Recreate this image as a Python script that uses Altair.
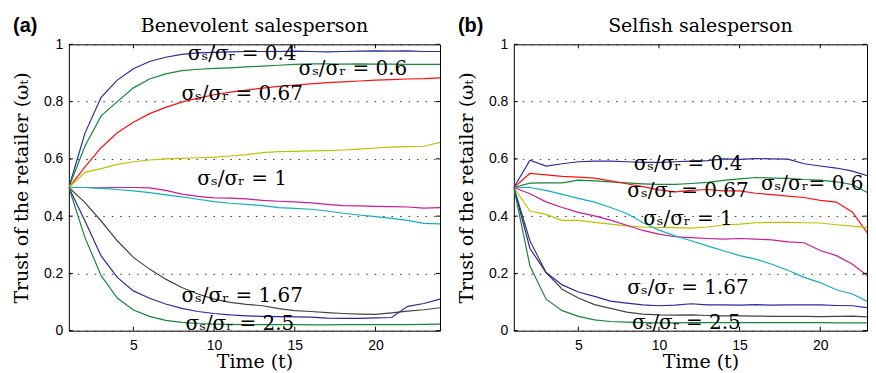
import altair as alt
import pandas as pd

t = list(range(1, 25))

# Benevolent salesperson (panel a)
ben_b1 = [0.5, 0.69, 0.815, 0.875, 0.915, 0.94, 0.955, 0.965, 0.97, 0.972, 0.974, 0.975, 0.975, 0.975, 0.976, 0.975, 0.974, 0.975, 0.976, 0.977, 0.976, 0.977, 0.975, 0.975]
ben_g1 = [0.5, 0.645, 0.75, 0.80, 0.848, 0.879, 0.897, 0.908, 0.913, 0.916, 0.918, 0.921, 0.924, 0.927, 0.93, 0.932, 0.932, 0.931, 0.932, 0.931, 0.931, 0.93, 0.93, 0.93]
ben_r = [0.5, 0.572, 0.639, 0.691, 0.728, 0.758, 0.78, 0.798, 0.812, 0.824, 0.833, 0.84, 0.847, 0.853, 0.858, 0.862, 0.866, 0.869, 0.872, 0.875, 0.877, 0.879, 0.88, 0.883]
ben_y = [0.5, 0.553, 0.566, 0.581, 0.59, 0.596, 0.6, 0.602, 0.604, 0.606, 0.61, 0.615, 0.622, 0.625, 0.626, 0.628, 0.629, 0.631, 0.634, 0.638, 0.641, 0.643, 0.644, 0.658]
ben_m = [0.5, 0.5, 0.499, 0.5, 0.5, 0.499, 0.49, 0.477, 0.469, 0.464, 0.463, 0.46, 0.455, 0.452, 0.45, 0.446, 0.441, 0.437, 0.436, 0.434, 0.433, 0.432, 0.428, 0.43]
ben_c = [0.5, 0.5, 0.497, 0.493, 0.488, 0.482, 0.474, 0.467, 0.459, 0.451, 0.445, 0.441, 0.437, 0.43, 0.427, 0.424, 0.418, 0.41, 0.404, 0.398, 0.392, 0.385, 0.375, 0.373]
ben_k = [0.5, 0.447, 0.383, 0.314, 0.256, 0.215, 0.18, 0.151, 0.128, 0.11, 0.099, 0.092, 0.087, 0.077, 0.07, 0.067, 0.063, 0.06, 0.058, 0.057, 0.062, 0.068, 0.073, 0.08]
ben_b2 = [0.5, 0.383, 0.261, 0.186, 0.139, 0.113, 0.093, 0.078, 0.067, 0.06, 0.055, 0.052, 0.05, 0.049, 0.048, 0.047, 0.044, 0.043, 0.043, 0.045, 0.046, 0.085, 0.095, 0.11]
ben_g2 = [0.5, 0.325, 0.192, 0.114, 0.072, 0.05, 0.036, 0.029, 0.025, 0.023, 0.022, 0.021, 0.021, 0.021, 0.021, 0.02, 0.02, 0.021, 0.021, 0.021, 0.021, 0.021, 0.022, 0.023]

# Selfish salesperson (panel b)
sel_b1 = [0.5, 0.595, 0.575, 0.583, 0.59, 0.592, 0.592, 0.59, 0.588, 0.588, 0.59, 0.592, 0.594, 0.6, 0.598, 0.601, 0.6, 0.599, 0.583, 0.575, 0.568, 0.557, 0.54, 0.515]
sel_g1 = [0.5, 0.515, 0.516, 0.516, 0.526, 0.523, 0.52, 0.516, 0.513, 0.511, 0.511, 0.514, 0.518, 0.525, 0.53, 0.535, 0.533, 0.532, 0.528, 0.526, 0.52, 0.51, 0.48, 0.455]
sel_r = [0.5, 0.549, 0.544, 0.539, 0.536, 0.533, 0.523, 0.513, 0.503, 0.492, 0.485, 0.49, 0.493, 0.488, 0.488, 0.48, 0.475, 0.47, 0.465, 0.455, 0.449, 0.414, 0.335, 0.26]
sel_y = [0.5, 0.418, 0.406, 0.385, 0.385, 0.378, 0.372, 0.366, 0.362, 0.36, 0.36, 0.358, 0.362, 0.369, 0.372, 0.377, 0.378, 0.378, 0.377, 0.376, 0.37, 0.365, 0.36, 0.352]
sel_m = [0.5, 0.478, 0.45, 0.43, 0.413, 0.401, 0.386, 0.368, 0.35, 0.337, 0.328, 0.325, 0.322, 0.32, 0.322, 0.32, 0.317, 0.31, 0.307, 0.28, 0.262, 0.232, 0.188, 0.15]
sel_c = [0.5, 0.5, 0.49, 0.476, 0.462, 0.449, 0.43, 0.409, 0.378, 0.351, 0.331, 0.314, 0.296, 0.279, 0.262, 0.25, 0.232, 0.211, 0.186, 0.168, 0.143, 0.128, 0.1, 0.085]
sel_k = [0.5, 0.314, 0.203, 0.145, 0.114, 0.091, 0.078, 0.065, 0.058, 0.055, 0.054, 0.055, 0.053, 0.052, 0.052, 0.051, 0.05, 0.05, 0.05, 0.049, 0.05, 0.051, 0.048, 0.047]
sel_b2 = [0.5, 0.287, 0.203, 0.16, 0.135, 0.12, 0.103, 0.096, 0.09, 0.087, 0.089, 0.094, 0.09, 0.09, 0.089, 0.091, 0.089, 0.09, 0.09, 0.09, 0.088, 0.087, 0.08, 0.075]
sel_g2 = [0.5, 0.226, 0.11, 0.07, 0.05, 0.038, 0.032, 0.03, 0.028, 0.027, 0.027, 0.028, 0.028, 0.028, 0.028, 0.028, 0.028, 0.028, 0.028, 0.028, 0.027, 0.027, 0.027, 0.027]

series_names = ["b1", "g1", "r", "y", "m", "c", "k", "b2", "g2"]
series_colors = ["#2a2aa0", "#15883a", "#ff1010", "#c0c000", "#cc1a99", "#10b0c0", "#444444", "#2a2aa0", "#15883a"]

# annotation labels
ben_lab_text = ["σₛ/σᵣ = 0.4", "σₛ/σᵣ = 0.6", "σₛ/σᵣ = 0.67", "σₛ/σᵣ = 1", "σₛ/σᵣ = 1.67", "σₛ/σᵣ = 2.5"]
ben_lab_t = [11.74, 18.6, 11.74, 11.74, 11.74, 11.6]
ben_lab_v = [0.965, 0.913, 0.826, 0.53, 0.122, 0.024]
sel_lab_text = ["σₛ/σᵣ = 0.4", "σₛ/σᵣ = 0.67", "σₛ/σᵣ= 0.6", "σₛ/σᵣ = 1", "σₛ/σᵣ = 1.67", "σₛ/σᵣ = 2.5"]
sel_lab_t = [11.8, 11.8, 19.5, 11.8, 11.8, 11.7]
sel_lab_v = [0.582, 0.488, 0.512, 0.39, 0.15, 0.028]

x_ticks = [5, 10, 15, 20]
y_ticks = [0, 0.2, 0.4, 0.6, 0.8, 1]
H = 287


def long_df(series_list):
    rows = []
    for name, vals in zip(series_names, series_list):
        for ti, v in zip(t, vals):
            rows.append({"t": ti, "v": v, "s": name})
    return pd.DataFrame(rows)


def panel(series_list, lab_text, lab_t, lab_v, title, tag, xmax, width, title_x):
    df = long_df(series_list)
    lab_df = pd.DataFrame({"t": lab_t, "v": lab_v, "lab": lab_text})
    xs = alt.Scale(domain=[1, xmax], nice=False, zero=False)
    ys = alt.Scale(domain=[0, 1], nice=False, zero=False)
    xax = alt.Axis(values=x_ticks, title="Time (t)", grid=False, ticks=False, domain=False,
                   labelFont="Liberation Sans", labelFontSize=14, labelColor="black", labelPadding=8,
                   titleFont="DejaVu Serif", titleFontSize=19, titleFontWeight="normal",
                   titleColor="black", titlePadding=0, titleX=title_x)
    yax = alt.Axis(values=y_ticks, title="Trust of the retailer (ωₜ)", format="~g", grid=True,
                   gridDash=[1.5, 7], gridColor="#333333", gridWidth=1, gridOpacity=1,
                   ticks=False, domain=False,
                   labelFont="Liberation Sans", labelFontSize=14, labelColor="black", labelPadding=6,
                   titleFont="DejaVu Serif", titleFontSize=19, titleFontWeight="normal",
                   titleColor="black", titlePadding=12)
    lines = alt.Chart(df).mark_line(strokeWidth=1.2, clip=True).encode(
        x=alt.X("t:Q", scale=xs, axis=xax),
        y=alt.Y("v:Q", scale=ys, axis=yax),
        color=alt.Color("s:N", scale=alt.Scale(domain=series_names, range=series_colors), legend=None),
        detail="s:N",
    )
    labels = alt.Chart(lab_df).mark_text(font="DejaVu Serif", fontSize=20, color="black",
                                         align="center", baseline="middle").encode(
        x=alt.X("t:Q", scale=xs), y=alt.Y("v:Q", scale=ys), text="lab:N")
    xt_df = pd.DataFrame({"t": x_ticks})
    yt_df = pd.DataFrame({"v": y_ticks})
    top_ticks = alt.Chart(xt_df).mark_rule(color="black", strokeWidth=1).encode(
        x=alt.X("t:Q", scale=xs), y=alt.value(0), y2=alt.value(4))
    bot_ticks = alt.Chart(xt_df).mark_rule(color="black", strokeWidth=1).encode(
        x=alt.X("t:Q", scale=xs), y=alt.value(H), y2=alt.value(H - 4))
    left_ticks = alt.Chart(yt_df).mark_rule(color="black", strokeWidth=1).encode(
        y=alt.Y("v:Q", scale=ys), x=alt.value(0), x2=alt.value(4))
    right_ticks = alt.Chart(yt_df).mark_rule(color="black", strokeWidth=1).encode(
        y=alt.Y("v:Q", scale=ys), x=alt.value(width), x2=alt.value(width - 4))
    tag_mark = alt.Chart(pd.DataFrame({"tag": [tag]})).mark_text(
        font="Liberation Sans", fontWeight="bold", fontSize=20, color="black",
        align="left", baseline="middle").encode(
        x=alt.value(-56), y=alt.value(-18), text="tag:N")
    title_mark = alt.Chart(pd.DataFrame({"ttl": [title]})).mark_text(
        font="DejaVu Serif", fontSize=19, color="black",
        align="center", baseline="middle").encode(
        x=alt.value(title_x), y=alt.value(-18), text="ttl:N")
    return alt.layer(lines, top_ticks, bot_ticks, left_ticks, right_ticks, labels,
                     tag_mark, title_mark).properties(width=width, height=H)


left = panel([ben_b1, ben_g1, ben_r, ben_y, ben_m, ben_c, ben_k, ben_b2, ben_g2],
             ben_lab_text, ben_lab_t, ben_lab_v, "Benevolent salesperson", "(a)", 24, 372, 186)
right = panel([sel_b1, sel_g1, sel_r, sel_y, sel_m, sel_c, sel_k, sel_b2, sel_g2],
              sel_lab_text, sel_lab_t, sel_lab_v, "Selfish salesperson", "(b)", 22.9, 354, 187)

chart = alt.hconcat(left, right, spacing=74, bounds="flush").properties(
    padding={"left": 4, "top": 7, "right": 0, "bottom": 0}
).configure_view(stroke="black", strokeWidth=1)

chart.save("out.html", embed_options={"renderer": "svg", "actions": False})
